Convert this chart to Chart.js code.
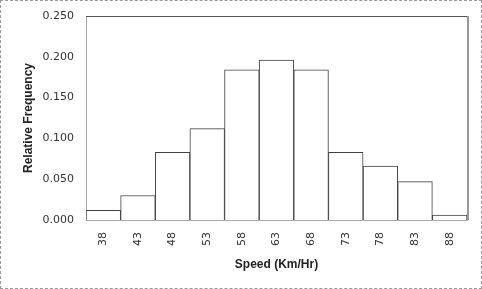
<!DOCTYPE html>
<html>
<head>
<meta charset="utf-8">
<script src="https://cdn.jsdelivr.net/npm/chart.js@4/dist/chart.umd.min.js"></script>
<style>
  html, body { margin: 0; padding: 0; background: #fff; }
  #wrap {
    width: 482px; height: 289px; box-sizing: border-box;
    border: 1px dashed #999; background: #fff;
  }
  #wrap canvas { display: block; }
</style>
</head>
<body>
<div id="wrap"><canvas id="histChart" width="480" height="287"></canvas></div>
<script>
// Speed bins (Km/Hr) and relative frequency
const speedBins = ["38", "43", "48", "53", "58", "63", "68", "73", "78", "83", "88"];
const relFreq = [0.012, 0.030, 0.083, 0.112, 0.184, 0.196, 0.184, 0.083, 0.066, 0.047, 0.006];
const yTicks = [0, 0.05, 0.10, 0.15, 0.20, 0.25];

// frame around plot area (top + right side, like the excel plot area)
const plotFrame = {
  id: "plotFrame",
  afterDatasetsDraw(chart) {
    const { ctx, chartArea: a } = chart;
    ctx.save();
    ctx.strokeStyle = "#555";
    ctx.lineWidth = 1;
    ctx.beginPath();
    ctx.moveTo(a.left, a.top + 0.5);
    ctx.lineTo(a.right, a.top + 0.5);
    ctx.stroke();
    ctx.strokeStyle = "#999";
    ctx.lineWidth = 2;
    ctx.beginPath();
    ctx.moveTo(a.right + 1, a.top);
    ctx.lineTo(a.right + 1, a.bottom);
    ctx.stroke();
    ctx.restore();
  }
};

const tickFont = { family: "DejaVu Sans", size: 11 };
const titleFont = { family: "Liberation Sans", size: 12, weight: "bold" };

new Chart(document.getElementById("histChart"), {
  type: "bar",
  data: {
    labels: speedBins,
    datasets: [{
      label: "Relative Frequency",
      data: relFreq,
      backgroundColor: "#ffffff",
      borderColor: "#404040",
      borderWidth: 1,
      categoryPercentage: 1.0,
      barPercentage: 1.0
    }]
  },
  options: {
    responsive: false,
    animation: false,
    layout: { padding: { top: 15, right: 14, left: 0, bottom: 0 } },
    plugins: { legend: { display: false }, tooltip: { enabled: false } },
    scales: {
      x: {
        grid: { display: false, drawTicks: false },
        border: { display: true, color: "#aaa" },
        ticks: {
          color: "#333", font: tickFont, padding: 12,
          minRotation: 90, maxRotation: 90
        },
        title: {
          display: true, text: "Speed (Km/Hr)", color: "#222",
          font: titleFont, padding: { top: 0, bottom: 16 }
        },
        afterFit(scale) { scale.height = 68; scale.paddingLeft = 0; scale.paddingRight = 0; }
      },
      y: {
        min: 0, max: 0.25,
        grid: { display: false, drawTicks: false },
        border: { display: true, color: "#aaa" },
        afterBuildTicks(scale) { scale.ticks = yTicks.map(v => ({ value: v })); },
        ticks: {
          color: "#333", font: tickFont, padding: 12,
          callback: v => Number(v).toFixed(3)
        },
        title: {
          display: true, text: "Relative Frequency", color: "#222",
          font: titleFont, padding: { top: 20, bottom: 0 }
        },
        afterFit(scale) { scale.width = 85; scale.paddingTop = 0; scale.paddingBottom = 0; }
      }
    }
  },
  plugins: [plotFrame]
});
</script>
</body>
</html>
